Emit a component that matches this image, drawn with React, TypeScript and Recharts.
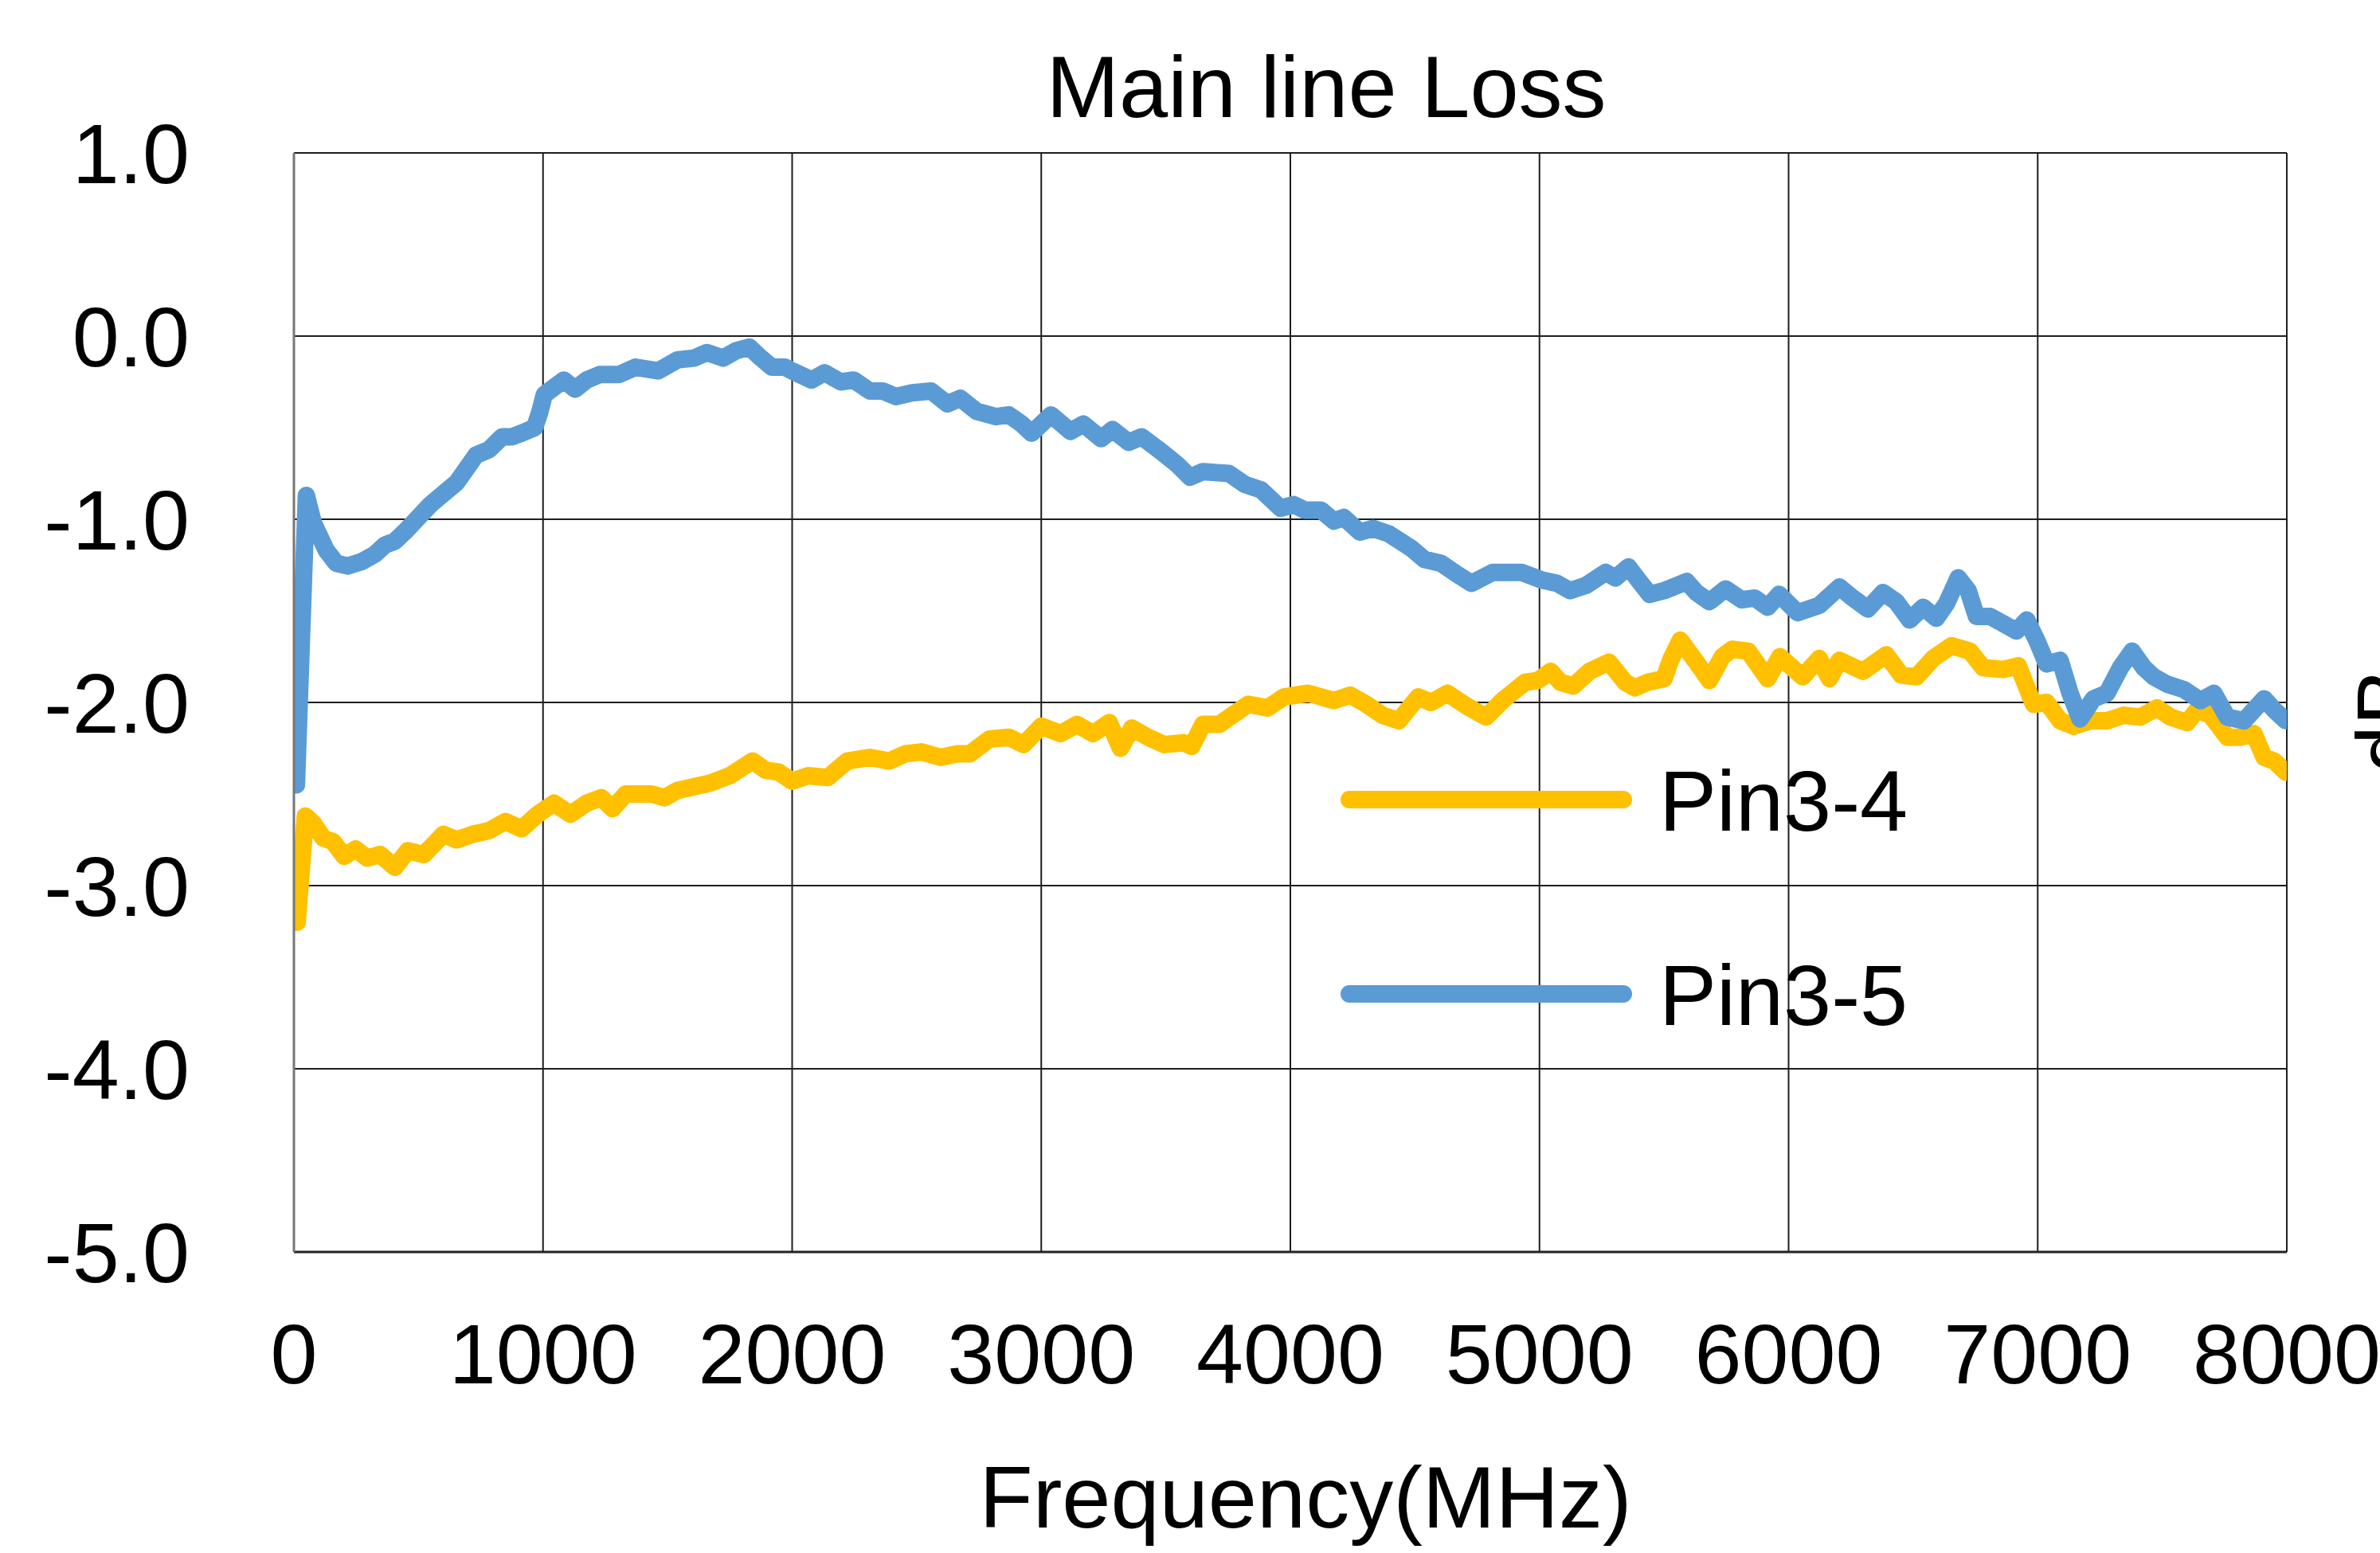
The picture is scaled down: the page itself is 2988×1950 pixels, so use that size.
import React from "react";
import { CartesianGrid, Legend, Line, LineChart, XAxis, YAxis } from "recharts";

const FONT = "'Liberation Sans', Arial, sans-serif";

const xTicks = [0, 1000, 2000, 3000, 4000, 5000, 6000, 7000, 8000];
const yTicks = [-5, -4, -3, -2, -1, 0, 1];

// Pin3-4 (yellow)
const pin34Freq = [
  13, 46, 78, 117, 157, 202, 248, 294, 346, 405, 457, 522, 600, 653, 718, 783, 849, 914, 979,
  1044, 1110, 1175, 1234, 1279, 1332, 1436, 1488, 1540, 1671, 1749, 1841, 1893, 1945, 2000,
  2065, 2143, 2221, 2312, 2390, 2455, 2519, 2597, 2662, 2714, 2792, 2870, 2929, 3000, 3078,
  3143, 3208, 3273, 3318, 3364, 3429, 3494, 3571, 3604, 3649, 3714, 3831, 3909, 3974, 4071,
  4175, 4240, 4305, 4370, 4435, 4513, 4565, 4630, 4708, 4786, 4851, 4942, 4994, 5045, 5084,
  5136, 5201, 5279, 5344, 5383, 5435, 5500, 5526, 5565, 5630, 5682, 5734, 5773, 5838, 5916,
  5965, 6056, 6123, 6164, 6204, 6298, 6392, 6452, 6513, 6580, 6654, 6728, 6781, 6862, 6922,
  6983, 7036, 7090, 7144, 7211, 7278, 7345, 7412, 7479, 7533, 7600, 7640, 7694, 7761, 7815,
  7868, 7909, 7949, 7996,
];
const pin34Loss = [
  -3.2, -2.62, -2.66, -2.74, -2.76, -2.84, -2.8, -2.85, -2.83, -2.9, -2.81, -2.83, -2.72, -2.75,
  -2.72, -2.7, -2.65, -2.69, -2.61, -2.55, -2.61, -2.55, -2.52, -2.58, -2.5, -2.5, -2.52, -2.48,
  -2.44, -2.4, -2.32, -2.37, -2.38, -2.43, -2.4, -2.41, -2.32, -2.3, -2.32, -2.28, -2.27, -2.3,
  -2.28, -2.28, -2.2, -2.19, -2.23, -2.13, -2.17, -2.12, -2.17, -2.11, -2.25, -2.14, -2.19,
  -2.23, -2.22, -2.24, -2.12, -2.12, -2.01, -2.03, -1.97, -1.95, -1.99, -1.96, -2.01, -2.07,
  -2.1, -1.97, -2.0, -1.95, -2.02, -2.08, -1.99, -1.89, -1.88, -1.83, -1.89, -1.91, -1.83,
  -1.78, -1.89, -1.92, -1.89, -1.87, -1.77, -1.66, -1.78, -1.88, -1.75, -1.71, -1.72, -1.87,
  -1.75, -1.86, -1.76, -1.87, -1.77, -1.83, -1.74, -1.85, -1.86, -1.76, -1.69, -1.72, -1.81,
  -1.82, -1.8, -2.01, -2.0, -2.1, -2.13, -2.1, -2.1, -2.07, -2.08, -2.03, -2.08, -2.11, -2.04,
  -2.07, -2.19, -2.19, -2.17, -2.3, -2.32, -2.38,
];

// Pin3-5 (blue)
const pin35Freq = [
  10, 50, 78, 130, 170, 215, 274, 326, 366, 405, 444, 496, 548, 600, 653, 705, 731, 783, 836,
  875, 914, 966, 986, 1005, 1044, 1084, 1129, 1175, 1227, 1305, 1371, 1462, 1540, 1606, 1658,
  1723, 1775, 1828, 1867, 1919, 1971, 2000, 2078, 2130, 2195, 2247, 2312, 2364, 2416, 2481,
  2558, 2623, 2675, 2740, 2818, 2870, 2922, 2961, 3000, 3039, 3117, 3169, 3240, 3286, 3351,
  3403, 3481, 3545, 3597, 3649, 3753, 3818, 3883, 3961, 4013, 4058, 4123, 4175, 4214, 4279,
  4331, 4396, 4487, 4539, 4604, 4669, 4727, 4812, 4929, 5006, 5071, 5123, 5188, 5266, 5305,
  5357, 5396, 5442, 5500, 5591, 5630, 5682, 5747, 5812, 5864, 5916, 5962, 6036, 6123, 6204,
  6258, 6318, 6379, 6432, 6486, 6540, 6593, 6634, 6681, 6721, 6754, 6808, 6862, 6915, 6956,
  6996, 7036, 7090, 7130, 7170, 7224, 7278, 7332, 7379, 7426, 7466, 7519, 7587, 7654, 7707,
  7761, 7828, 7909, 7949, 7996,
];
const pin35Loss = [
  -2.45, -0.87, -1.02, -1.17, -1.24, -1.255, -1.23, -1.19, -1.14, -1.12, -1.07, -0.995, -0.92,
  -0.86, -0.8, -0.7, -0.65, -0.62, -0.55, -0.55, -0.53, -0.5, -0.42, -0.32, -0.28, -0.24,
  -0.29, -0.24, -0.21, -0.21, -0.17, -0.19, -0.13, -0.12, -0.09, -0.12, -0.08, -0.06, -0.11,
  -0.17, -0.17, -0.19, -0.24, -0.2, -0.25, -0.24, -0.3, -0.3, -0.33, -0.31, -0.3, -0.37,
  -0.34, -0.41, -0.44, -0.43, -0.48, -0.53, -0.48, -0.43, -0.52, -0.48, -0.56, -0.51, -0.58,
  -0.55, -0.63, -0.7, -0.77, -0.74, -0.75, -0.81, -0.84, -0.94, -0.92, -0.95, -0.95, -1.01,
  -0.99, -1.07, -1.05, -1.08, -1.16, -1.22, -1.24, -1.3, -1.35, -1.29, -1.29, -1.33, -1.35,
  -1.39, -1.36, -1.29, -1.32, -1.26, -1.33, -1.41, -1.39, -1.34, -1.4, -1.45, -1.38, -1.44,
  -1.43, -1.48, -1.41, -1.51, -1.47, -1.37, -1.43, -1.49, -1.4, -1.45, -1.55, -1.48, -1.54,
  -1.46, -1.32, -1.39, -1.53, -1.53, -1.57, -1.61, -1.55, -1.66, -1.79, -1.77, -1.95, -2.09,
  -1.98, -1.95, -1.81, -1.72, -1.81, -1.86, -1.9, -1.93, -1.99, -1.95, -2.08, -2.1, -1.98,
  -2.04, -2.1,
];

const pin34 = pin34Freq.map((f, i) => ({ f, v: pin34Loss[i] }));
const pin35 = pin35Freq.map((f, i) => ({ f, v: pin35Loss[i] }));

function LegendBox({ payload }: any) {
  const items = payload ?? [];
  return (
    <svg width={820} height={380}>
      {items.map((p: any, i: number) => (
        <g key={p.value}>
          <line
            x1={24}
            x2={368}
            y1={64 + i * 244}
            y2={64 + i * 244}
            stroke={p.color}
            strokeWidth={22}
            strokeLinecap="round"
          />
          <text x={413} y={103 + i * 244} fontSize={108} fontFamily={FONT} fill="#000">
            {p.value}
          </text>
        </g>
      ))}
    </svg>
  );
}

export default function App() {
  const tickStyle = { fontSize: 106, fontFamily: FONT, fill: "#000" };
  return (
    <div style={{ position: "absolute", left: 0, top: 0, width: 2988, height: 1950, background: "#fff" }}>
      <LineChart
        width={2988}
        height={1950}
        margin={{ top: 192, right: 117, bottom: 228, left: 169 }}
      >
        <CartesianGrid stroke="#1e1e1e" strokeWidth={2} />
        <XAxis
          type="number"
          dataKey="f"
          domain={[0, 8000]}
          ticks={xTicks}
          interval={0}
          height={150}
          tickLine={false}
          tickSize={0}
          tickMargin={90}
          tick={tickStyle}
          axisLine={{ stroke: "#222", strokeWidth: 3 }}
          allowDataOverflow
        />
        <YAxis
          type="number"
          domain={[-5, 1]}
          ticks={yTicks}
          interval={0}
          width={200}
          tickLine={false}
          tickSize={0}
          tickMargin={131}
          tick={tickStyle}
          tickFormatter={(v: number) => v.toFixed(1)}
          axisLine={{ stroke: "#777", strokeWidth: 3 }}
          allowDataOverflow
        />
        <Legend
          layout="vertical"
          align="center"
          verticalAlign="middle"
          content={<LegendBox />}
          wrapperStyle={{ position: "absolute", left: 1670, top: 940, width: 820, height: 380 }}
        />
        <Line
          data={pin34}
          dataKey="v"
          name="Pin3-4"
          type="linear"
          stroke="#FFC000"
          strokeWidth={22}
          strokeLinecap="round"
          strokeLinejoin="round"
          dot={false}
          activeDot={false}
          isAnimationActive={false}
        />
        <Line
          data={pin35}
          dataKey="v"
          name="Pin3-5"
          type="linear"
          stroke="#5B9BD5"
          strokeWidth={22}
          strokeLinecap="round"
          strokeLinejoin="round"
          dot={false}
          activeDot={false}
          isAnimationActive={false}
        />
      </LineChart>
      <svg
        width={2988}
        height={1950}
        style={{ position: "absolute", left: 0, top: 0, pointerEvents: "none" }}
      >
        <text x={1665} y={147} textAnchor="middle" fontSize={110} fontFamily={FONT} fill="#000">
          Main line Loss
        </text>
        <text x={1639} y={1918} textAnchor="middle" fontSize={110} fontFamily={FONT} fill="#000">
          Frequency(MHz)
        </text>
        <text
          x={3034}
          y={905}
          textAnchor="middle"
          fontSize={108}
          fontFamily={FONT}
          fill="#000"
          transform="rotate(-90 3034 905)"
        >
          dB
        </text>
      </svg>
    </div>
  );
}
